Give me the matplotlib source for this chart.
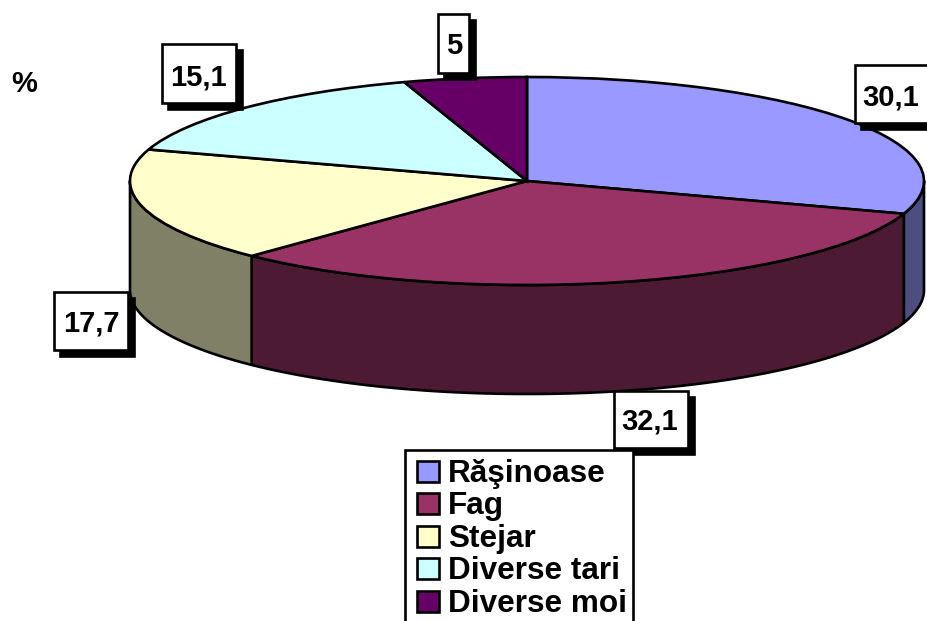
# -*- coding: utf-8 -*-
import numpy as np
import matplotlib
matplotlib.use('Agg')
import matplotlib.pyplot as plt
from matplotlib.patches import Rectangle

categories = ['Răşinoase', 'Fag', 'Stejar', 'Diverse tari', 'Diverse moi']
values = [30.1, 32.1, 17.7, 15.1, 5]
value_labels = ['30,1', '32,1', '17,7', '15,1', '5']

top_colors = ['#9999FF', '#993366', '#FFFFCC', '#CCFFFF', '#660066']
side_colors = ['#4D4D80', '#4D1A33', '#808066', '#668080', '#330033']

plt.rcParams['font.family'] = ['Liberation Sans', 'DejaVu Sans']
plt.rcParams['font.weight'] = 'bold'

W, H = 928, 621
# pie geometry, pixels
CX, CY, RX, RY, DEPTH = 527, 181, 397, 104, 109
LW = 1.9

fig = plt.figure(figsize=(W / 100, H / 100), dpi=100, facecolor='white')

# pie axes: 1 unit = one radius on each axis, so the circle comes out flat
ax = fig.add_axes([0, 0, 1, 1])
ax.pie(values, colors=top_colors, startangle=90, counterclock=False,
       wedgeprops={'edgecolor': 'black', 'linewidth': LW, 'zorder': 3})
ax.set_aspect('auto')
ax.set_xlim(-CX / RX, (W - CX) / RX)
ax.set_ylim((CY - H) / RY, CY / RY)
ax.axis('off')

# side wall, only the front half (-180..0 deg) is seen
d = DEPTH / RY
edges = 90 - np.cumsum([0] + values) * 3.6
for i in range(len(values)):
    lo = max(edges[i + 1], -180)
    hi = min(edges[i], 0)
    if lo < hi:
        t = np.radians(np.linspace(lo, hi, 80))
        xs = np.concatenate([np.cos(t), np.cos(t[::-1])])
        ys = np.concatenate([np.sin(t), np.sin(t[::-1]) - d])
        ax.fill(xs, ys, facecolor=side_colors[i], edgecolor='black', linewidth=LW,
                joinstyle='round', zorder=2)

# overlay in pixels for the boxes and the legend
ov = fig.add_axes([0, 0, 1, 1], facecolor='none')
ov.set_xlim(0, W)
ov.set_ylim(H, 0)
ov.axis('off')

# x0, y0, x1, y1, text x, baseline y
label_boxes = [
    (855, 65, 940, 123, 891, 105),
    (614, 391, 688, 448, 650, 430),
    (54, 292, 128, 350, 91, 332),
    (162, 44, 236, 103, 198, 85),
    (438, 14, 469, 73, 454, 54),
]
SHADOW = 6
for text, (x0, y0, x1, y1, tx, ty) in zip(value_labels, label_boxes):
    ov.add_patch(Rectangle((x0 + SHADOW, y0 + SHADOW), x1 - x0, y1 - y0,
                           facecolor='black', edgecolor='black', linewidth=LW, zorder=5))
    ov.add_patch(Rectangle((x0, y0), x1 - x0, y1 - y0,
                           facecolor='white', edgecolor='black', linewidth=LW, zorder=6))
    ov.text(tx, ty, text, ha='center', va='baseline', fontsize=21, zorder=7)

ov.text(24, 92, '%', ha='center', va='baseline', fontsize=21)

# legend, runs off the bottom of the picture like the original
ov.add_patch(Rectangle((405, 450), 228, 190, facecolor='white', edgecolor='black',
                       linewidth=LW, zorder=8))
for i, name in enumerate(categories):
    y = 461 + i * 32.4
    ov.add_patch(Rectangle((417, y), 22, 21, facecolor=top_colors[i], edgecolor='black',
                           linewidth=LW, zorder=9))
    ov.text(448, y + 21, name, ha='left', va='baseline', fontsize=22.7, zorder=9)

fig.savefig('out.png', dpi=100)
